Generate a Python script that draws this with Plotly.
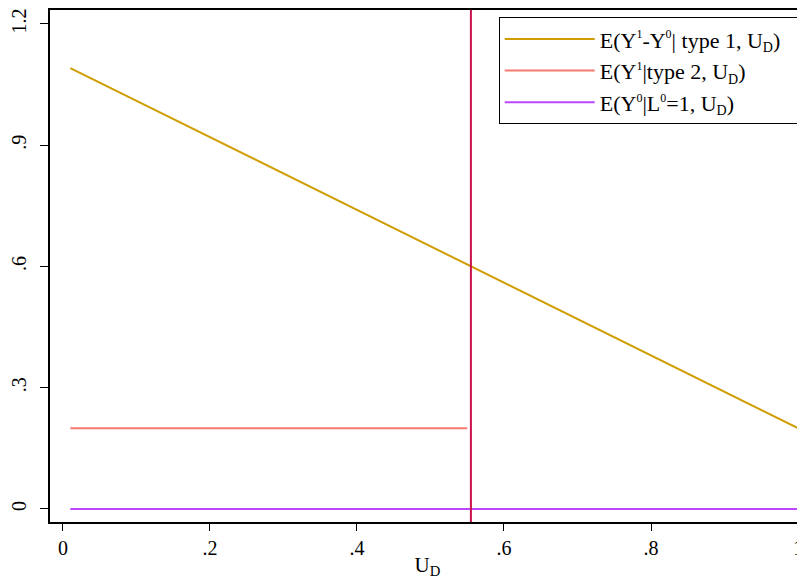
import plotly.graph_objects as go

# Data
ud_type1 = [0.01, 1.0]
y_type1 = [1.091, 0.2]
ud_type2 = [0.01, 0.55]
y_type2 = [0.2, 0.2]
ud_l0 = [0.01, 1.0]
y_l0 = [0.0, 0.0]
ud_cut = 0.555

x_ticks = [0, 0.2, 0.4, 0.6, 0.8, 1.0]
x_ticklabels = ["0", ".2", ".4", ".6", ".8", "1"]
y_ticks = [0, 0.3, 0.6, 0.9, 1.2]
y_ticklabels = ["0", ".3", ".6", ".9", "1.2"]


def sup(t):
    return "<sup><span style='font-size:12px'>%s</span></sup>" % t


def sub(t):
    return "<sub><span style='font-size:14px'>%s</span></sub>" % t


names = [
    "E(Y" + sup("1") + "-Y" + sup("0") + "| type 1, U" + sub("D") + ")&nbsp;&nbsp;&nbsp;",
    "E(Y" + sup("1") + "|type 2, U" + sub("D") + ")",
    "E(Y" + sup("0") + "|L" + sup("0") + "=1, U" + sub("D") + ")",
]
colors = ["#CF9D00", "#F57A70", "#BD47FF"]

FONT = "Liberation Serif"

fig = go.Figure()
fig.add_trace(go.Scatter(x=ud_type1, y=y_type1, mode="lines", name=names[0],
                         line=dict(color=colors[0], width=2)))
fig.add_trace(go.Scatter(x=ud_type2, y=y_type2, mode="lines", name=names[1],
                         line=dict(color=colors[1], width=2)))
fig.add_trace(go.Scatter(x=ud_l0, y=y_l0, mode="lines", name=names[2],
                         line=dict(color=colors[2], width=2)))

fig.add_vline(x=ud_cut, line=dict(color="#C8114A", width=2))

# page body has an 8px margin: figure starts at (8, 8)
fig.update_layout(
    width=797, height=571,
    margin=dict(l=40, r=0, t=2, b=57),
    paper_bgcolor="white", plot_bgcolor="white",
    font=dict(family=FONT, size=20, color="black"),
    showlegend=True,
    legend=dict(x=0.997, y=0.986, xanchor="right", yanchor="top",
                bordercolor="black", borderwidth=1, bgcolor="white",
                font=dict(family=FONT, size=22), tracegroupgap=0,
                itemwidth=90),
    xaxis=dict(range=[-0.0176, 1.0095], tickvals=x_ticks, ticktext=x_ticklabels,
               showgrid=False, zeroline=False, showline=True, linecolor="black",
               linewidth=1.5, mirror=True, ticks="outside", ticklen=7, tickcolor="black",
               tickfont=dict(size=20),
               title=dict(text="U<sub>D</sub>", font=dict(size=21), standoff=2)),
    yaxis=dict(range=[-0.0322, 1.2346], tickvals=y_ticks, ticktext=y_ticklabels,
               showgrid=False, zeroline=False, showline=True, linecolor="black",
               linewidth=1.5, ticks="outside", ticklen=8, tickcolor="black",
               tickfont=dict(size=20), tickangle=-90, ticklabelstandoff=6),
)

fig.write_html("out.html")
